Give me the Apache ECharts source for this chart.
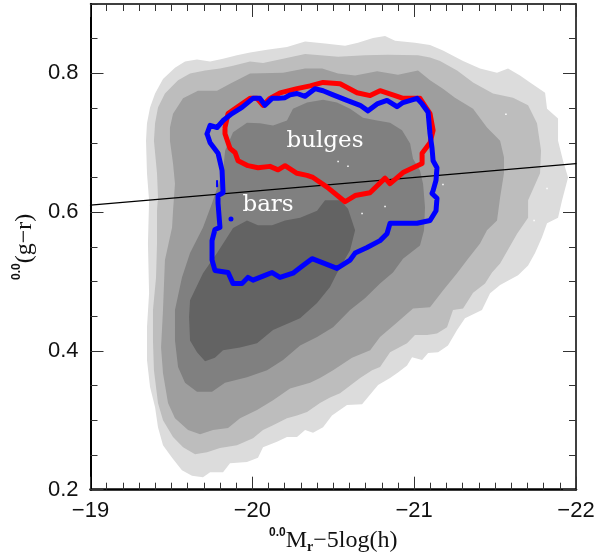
<!DOCTYPE html>
<html>
<head>
<meta charset="utf-8">
<title>bulges and bars</title>
<script src="https://cdn.jsdelivr.net/npm/echarts@6/dist/echarts.min.js"></script>
<style>
    html, body { margin: 0; padding: 0; background: #fff; }
    #chart { width: 611px; height: 554px; }
</style>
</head>
<body>
<div id="chart"></div>
<script>
const yTicks = [0.2, 0.4, 0.6, 0.8];
const shades = ['#dcdcdc', '#bdbdbd', '#9e9e9e', '#808080', '#636363'];

// filled density levels, outermost first: [magnitude, colour]
const level1 = [[-19.343,.703],[-19.349,.728],[-19.368,.751],[-19.399,.771],[-19.448,.792],[-19.522,.808],[-19.584,.817],[-19.658,.820],[-19.739,.817],[-19.819,.821],[-19.905,.826],[-19.986,.830],[-20.091,.834],[-20.214,.838],[-20.326,.846],[-20.449,.843],[-20.573,.840],[-20.653,.844],[-20.746,.851],[-20.820,.854],[-20.882,.847],[-21.005,.844],[-21.098,.841],[-21.178,.833],[-21.302,.818],[-21.407,.807],[-21.512,.801],[-21.580,.807],[-21.654,.797],[-21.716,.787],[-21.809,.772],[-21.821,.749],[-21.889,.735],[-21.889,.703],[-21.920,.674],[-21.951,.650],[-21.914,.617],[-21.889,.592],[-21.821,.584],[-21.790,.564],[-21.747,.541],[-21.704,.523],[-21.642,.509],[-21.531,.495],[-21.469,.483],[-21.419,.459],[-21.314,.447],[-21.265,.430],[-21.209,.408],[-21.148,.398],[-21.086,.397],[-21.049,.387],[-20.987,.391],[-20.956,.379],[-20.900,.369],[-20.851,.361],[-20.777,.351],[-20.678,.323],[-20.585,.322],[-20.492,.307],[-20.437,.290],[-20.375,.282],[-20.326,.286],[-20.276,.276],[-20.214,.276],[-20.152,.269],[-20.066,.261],[-20.035,.246],[-19.967,.240],[-19.862,.238],[-19.819,.225],[-19.739,.225],[-19.695,.218],[-19.627,.220],[-19.565,.228],[-19.504,.246],[-19.448,.264],[-19.417,.290],[-19.399,.319],[-19.368,.348],[-19.349,.387],[-19.349,.434],[-19.362,.483],[-19.355,.555],[-19.362,.617],[-19.349,.656]];
const level2 = [[-19.392,.703],[-19.399,.728],[-19.417,.751],[-19.460,.771],[-19.541,.790],[-19.615,.800],[-19.708,.804],[-19.800,.807],[-19.881,.811],[-19.986,.817],[-20.066,.815],[-20.190,.821],[-20.326,.828],[-20.530,.824],[-20.696,.826],[-20.839,.827],[-21.024,.826],[-21.098,.823],[-21.160,.818],[-21.265,.804],[-21.364,.787],[-21.487,.771],[-21.611,.765],[-21.704,.754],[-21.759,.728],[-21.784,.689],[-21.778,.656],[-21.704,.617],[-21.704,.592],[-21.636,.569],[-21.531,.526],[-21.481,.513],[-21.438,.497],[-21.364,.484],[-21.302,.461],[-21.240,.459],[-21.203,.434],[-21.141,.425],[-21.080,.423],[-21.005,.423],[-20.956,.411],[-20.851,.398],[-20.789,.377],[-20.740,.372],[-20.666,.361],[-20.542,.339],[-20.480,.333],[-20.418,.325],[-20.338,.312],[-20.276,.307],[-20.214,.303],[-20.128,.293],[-20.066,.286],[-20.004,.274],[-19.905,.264],[-19.800,.260],[-19.720,.254],[-19.646,.251],[-19.572,.261],[-19.510,.276],[-19.448,.300],[-19.417,.325],[-19.392,.372],[-19.386,.415],[-19.386,.459],[-19.405,.506],[-19.411,.555],[-19.411,.602],[-19.417,.621],[-19.411,.656]];
const level3 = [[-19.491,.703],[-19.491,.722],[-19.510,.742],[-19.572,.764],[-19.664,.775],[-19.782,.775],[-19.862,.785],[-19.986,.800],[-20.190,.801],[-20.326,.807],[-20.431,.807],[-20.530,.800],[-20.635,.797],[-20.771,.803],[-20.900,.798],[-21.024,.804],[-21.098,.790],[-21.178,.778],[-21.252,.765],[-21.364,.749],[-21.450,.722],[-21.531,.703],[-21.555,.679],[-21.555,.656],[-21.531,.621],[-21.512,.588],[-21.450,.574],[-21.407,.555],[-21.327,.531],[-21.265,.512],[-21.178,.487],[-21.098,.463],[-20.993,.461],[-20.894,.441],[-20.789,.420],[-20.728,.401],[-20.616,.390],[-20.499,.372],[-20.418,.361],[-20.357,.354],[-20.233,.346],[-20.128,.329],[-20.029,.315],[-19.924,.303],[-19.850,.289],[-19.757,.286],[-19.677,.280],[-19.603,.286],[-19.522,.303],[-19.479,.325],[-19.448,.368],[-19.436,.405],[-19.448,.459],[-19.460,.531],[-19.504,.578],[-19.510,.602],[-19.522,.641],[-19.510,.670]];
const level4 = [[-19.832,.689],[-19.881,.715],[-19.967,.729],[-20.047,.728],[-20.128,.725],[-20.214,.732],[-20.251,.749],[-20.338,.758],[-20.437,.762],[-20.523,.758],[-20.604,.749],[-20.684,.736],[-20.771,.732],[-20.851,.729],[-20.925,.718],[-20.975,.699],[-20.993,.677],[-21.036,.660],[-21.055,.641],[-21.067,.607],[-21.061,.574],[-21.036,.552],[-20.931,.533],[-20.869,.513],[-20.789,.497],[-20.696,.476],[-20.604,.459],[-20.499,.434],[-20.400,.420],[-20.295,.408],[-20.190,.387],[-20.091,.372],[-19.967,.362],[-19.831,.354],[-19.751,.341],[-19.658,.341],[-19.584,.354],[-19.541,.377],[-19.522,.415],[-19.522,.459],[-19.565,.506],[-19.615,.541],[-19.695,.578],[-19.751,.613],[-19.819,.660]];
const level5 = [[-19.615,.473],[-19.609,.449],[-19.615,.415],[-19.658,.398],[-19.708,.385],[-19.769,.390],[-19.819,.401],[-19.924,.405],[-20.029,.411],[-20.128,.430],[-20.295,.447],[-20.400,.469],[-20.480,.492],[-20.523,.512],[-20.604,.545],[-20.635,.574],[-20.591,.605],[-20.542,.617],[-20.449,.617],[-20.400,.602],[-20.295,.592],[-20.202,.588],[-20.122,.581],[-20.035,.581],[-19.967,.588],[-19.881,.577],[-19.782,.541],[-19.695,.512]];

const divider = [[-19, 0.61], [-22, 0.67]];
const bulgesLine = [[-19.831,.722],[-19.831,.713],[-19.862,.692],[-19.893,.686],[-19.912,.674],[-19.973,.667],[-20.035,.664],[-20.109,.666],[-20.159,.661],[-20.202,.667],[-20.276,.656],[-20.338,.653],[-20.375,.650],[-20.462,.636],[-20.573,.615],[-20.635,.624],[-20.727,.628],[-20.820,.649],[-20.851,.641],[-20.931,.657],[-21.049,.670],[-21.049,.685],[-21.098,.700],[-21.117,.718],[-21.098,.742],[-21.036,.764],[-20.931,.764],[-20.882,.768],[-20.789,.775],[-20.728,.768],[-20.647,.772],[-20.542,.785],[-20.437,.787],[-20.357,.782],[-20.276,.778],[-20.171,.772],[-20.109,.764],[-20.066,.754],[-20.029,.764],[-19.986,.764],[-19.905,.751],[-19.850,.742],[-19.831,.722]];
const barsLine = [[-19.720,.713],[-19.739,.725],[-19.782,.722],[-19.819,.732],[-19.874,.742],[-19.936,.751],[-20.004,.764],[-20.047,.764],[-20.078,.754],[-20.122,.764],[-20.159,.764],[-20.202,.765],[-20.233,.769],[-20.276,.771],[-20.326,.767],[-20.387,.778],[-20.437,.775],[-20.499,.769],[-20.585,.761],[-20.666,.754],[-20.715,.746],[-20.771,.756],[-20.832,.761],[-20.894,.752],[-20.931,.758],[-21.018,.764],[-21.049,.756],[-21.086,.744],[-21.098,.713],[-21.110,.693],[-21.117,.674],[-21.141,.664],[-21.135,.646],[-21.117,.631],[-21.110,.627],[-21.141,.620],[-21.135,.602],[-21.098,.588],[-21.018,.584],[-20.956,.584],[-20.851,.584],[-20.832,.569],[-20.789,.559],[-20.709,.549],[-20.635,.541],[-20.604,.531],[-20.523,.519],[-20.480,.523],[-20.369,.533],[-20.313,.523],[-20.251,.512],[-20.171,.506],[-20.122,.513],[-20.078,.509],[-20.004,.502],[-19.973,.506],[-19.936,.497],[-19.881,.497],[-19.850,.513],[-19.769,.516],[-19.751,.531],[-19.751,.559],[-19.769,.575],[-19.800,.578],[-19.788,.613],[-19.788,.624],[-19.819,.628],[-19.813,.660],[-19.788,.685],[-19.739,.700],[-19.720,.713]];
const barsDot = [[-19.868, .590]];
const barsDash = [[-19.782, .641]];
const whiteSpecks = [[-21.567,.741],[-21.741,.588],[-21.178,.640],[-21.821,.634],[-20.678,.598],[-20.820,.608],[-20.591,.666],[-20.530,.673]];
const regionLabels = [['bulges', -20.449, .702], ['bars', -20.097, .610]];

function polygonSeries(points, color) {
    return {
        type: 'custom',
        silent: true,
        animation: false,
        data: points,
        encode: { x: 0, y: 1 },
        renderItem: (params, api) => {
            // the whole outline is drawn once, from the first row
            if (params.dataIndex !== 0) {
                return null;
            }
            return {
                type: 'polygon',
                shape: { points: points.map(p => api.coord(p)) },
                style: { fill: color },
            };
        },
    };
}

function lineSeries(points, color, width) {
    return {
        type: 'line',
        data: points,
        showSymbol: false,
        silent: true,
        animation: false,
        lineStyle: { color: color, width: width, join: 'round', cap: 'round' },
    };
}

function markSeries(points, color, symbol, size) {
    return {
        type: 'scatter',
        data: points,
        symbol: symbol,
        symbolSize: size,
        silent: true,
        itemStyle: { color: color, opacity: 1 },
    };
}

const serifText = { fontFamily: 'Liberation Serif', color: '#111' };
const nameRich = {
    sup: { fontFamily: 'Liberation Sans', fontSize: 12, fontWeight: 'bold', color: '#111', verticalAlign: 'top', lineHeight: 28 },
    main: { ...serifText, fontSize: 24, lineHeight: 28 },
    sub: { ...serifText, fontSize: 14, fontWeight: 'bold', verticalAlign: 'bottom', lineHeight: 28 },
};

function xAxis(position, lineWidth, showLabels) {
    return {
        type: 'value',
        position: position,
        inverse: true,
        min: -22,
        max: -19,
        interval: 1,
        splitLine: { show: false },
        axisLine: { onZero: false, lineStyle: { color: '#000', width: lineWidth } },
        axisTick: { inside: true, length: 13, lineStyle: { color: '#333', width: 1 } },
        minorTick: { show: true, splitNumber: 10, length: 7, lineStyle: { color: '#333', width: 1 } },
        axisLabel: {
            show: showLabels,
            margin: 10,
            fontFamily: 'Liberation Sans',
            fontSize: 22,
            color: '#111',
            formatter: v => String(v).replace('-', '\u2212'),
        },
    };
}

function yAxisMajor(position, lineWidth, showLabels) {
    return {
        type: 'value',
        position: position,
        min: 0.2,
        max: 0.9,
        interval: 0.1,
        splitLine: { show: false },
        axisLine: { onZero: false, lineStyle: { color: '#000', width: lineWidth } },
        axisTick: { inside: true, length: 13, customValues: yTicks, lineStyle: { color: '#333', width: 1 } },
        axisLabel: {
            show: showLabels,
            customValues: yTicks,
            margin: 12,
            fontFamily: 'Liberation Sans',
            fontSize: 22,
            color: '#111',
            formatter: v => v.toFixed(1),
        },
    };
}

function yAxisMinor(position) {
    return {
        type: 'value',
        position: position,
        min: 0.2,
        max: 0.9,
        interval: 0.05,
        splitLine: { show: false },
        axisLine: { show: false },
        axisTick: { inside: true, length: 7, lineStyle: { color: '#333', width: 1 } },
        axisLabel: { show: false },
    };
}

const chart = echarts.init(document.getElementById('chart'), null, { renderer: 'canvas' });

const bottomAxis = xAxis('bottom', 2.5, true);
bottomAxis.name = '{sup|0.0}{main|M}{sub|r}{main|\u22125log(h)}';
bottomAxis.nameLocation = 'middle';
bottomAxis.nameGap = 34;
bottomAxis.nameTextStyle = { rich: nameRich };

const leftAxis = yAxisMajor('left', 2, true);
leftAxis.name = '{sup|0.0}{main|(g\u2212r)}';
leftAxis.nameLocation = 'middle';
leftAxis.nameGap = 52;
leftAxis.nameTextStyle = { rich: nameRich };

chart.setOption({
    backgroundColor: '#fff',
    animation: false,
    grid: { left: 90.5, right: 35, top: 4, bottom: 64.3, outerBoundsMode: 'none' },
    xAxis: [bottomAxis, xAxis('top', 1.5, false)],
    yAxis: [leftAxis, yAxisMinor('left'), yAxisMajor('right', 1.5, false), yAxisMinor('right')],
    series: [
        polygonSeries(level1, shades[0]),
        polygonSeries(level2, shades[1]),
        polygonSeries(level3, shades[2]),
        polygonSeries(level4, shades[3]),
        polygonSeries(level5, shades[4]),
        markSeries(whiteSpecks, '#fff', 'rect', 1.5),
        lineSeries(divider, '#000', 1.2),
        lineSeries(bulgesLine, '#ff0000', 5),
        lineSeries(barsLine, '#0000ff', 5),
        markSeries(barsDot, '#0000ff', 'circle', 5),
        markSeries(barsDash, '#0000ff', 'rect', [2, 7]),
        {
            type: 'custom',
            silent: true,
            data: regionLabels.map(r => [r[1], r[2]]),
            encode: { x: 0, y: 1 },
            renderItem: (params, api) => {
                const pos = api.coord([api.value(0), api.value(1)]);
                return {
                    type: 'text',
                    x: pos[0],
                    y: pos[1],
                    style: {
                        text: regionLabels[params.dataIndex][0],
                        fill: '#fff',
                        font: '23px "DejaVu Serif"',
                        align: 'center',
                        verticalAlign: 'middle',
                    },
                };
            },
        },
    ],
});
</script>
</body>
</html>
